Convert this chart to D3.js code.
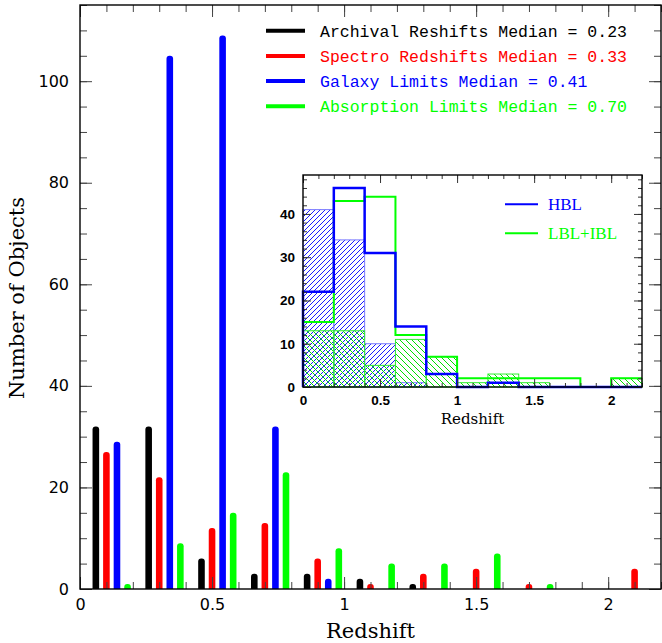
<!DOCTYPE html>
<html>
<head>
<meta charset="utf-8">
<script src="https://cdn.jsdelivr.net/npm/d3@7"></script>
<style>
  body { margin: 0; background: #fff; }
  svg { display: block; }
</style>
</head>
<body>
<div id="chart"></div>
<script>
// redshift bins (width 0.2)
var binStarts = [0, 0.2, 0.4, 0.6, 0.8, 1.0, 1.2, 1.4, 1.6, 1.8, 2.0];

// main histogram, one value per bin
var archival   = [32, 32, 6, 3, 3, 2, 1, 0, 0, 0, 0];
var spectro    = [27, 22, 12, 13, 6, 1, 3, 4, 1, 0, 4];
var galaxy     = [29, 105, 109, 32, 2, 0, 0, 0, 0, 0, 0];
var absorption = [1, 9, 15, 23, 8, 5, 5, 7, 1, 0, 0];

var seriesNames = [
    "Archival Reshifts Median = 0.23",
    "Spectro Redshifts Median = 0.33",
    "Galaxy Limits Median = 0.41",
    "Absorption Limits Median = 0.70"
];
var seriesColors = ["#000000", "#ff0000", "#0000ff", "#00ff00"];
var barOffsets = [0.06, 0.10, 0.14, 0.18];

// inset histogram
var hblTotal = [22, 46, 31, 14, 3, 0, 1, 0, 0, 0, 0];
var lblTotal = [15, 43, 44, 12, 7, 2, 2, 2, 2, 0, 2];
var hblHatch = [41, 34, 10, 1, 0, 0, 0, 0, 0, 0, 0];
var lblHatch = [13, 13, 5, 11, 7, 1, 3, 1, 0, 0, 2];
var insetNames = ["HBL", "LBL+IBL"];
var insetColors = ["#0000ff", "#00ff00"];

var binWidth = 0.2;
var xMajor = [0, 0.5, 1, 1.5, 2];
var xMinor = d3.range(0, 23).map(d => d / 10);

var width = 662, height = 643;

var svg = d3.select("#chart").append("svg")
    .attr("width", width)
    .attr("height", height);

var defs = svg.append("defs");

// hatch patterns
defs.append("pattern")
    .attr("id", "hatchBlue")
    .attr("patternUnits", "userSpaceOnUse")
    .attr("width", 5).attr("height", 5)
  .append("path")
    .attr("d", "M-1,1 l2,-2 M0,5 l5,-5 M4,6 l2,-2")
    .attr("stroke", "#1a1aff")
    .attr("stroke-width", 1)
    .attr("shape-rendering", "crispEdges");

defs.append("pattern")
    .attr("id", "hatchGreen")
    .attr("patternUnits", "userSpaceOnUse")
    .attr("width", 6).attr("height", 6)
  .append("path")
    .attr("d", "M-1,5 l2,2 M0,0 l6,6 M5,-1 l2,2")
    .attr("stroke", "#00e000")
    .attr("stroke-width", 1)
    .attr("shape-rendering", "crispEdges");

// ---------- main plot ----------
var x = d3.scaleLinear().domain([0, 2.2]).range([80, 661]);
var y = d3.scaleLinear().domain([0, 115]).range([589, 5]);

defs.append("clipPath").attr("id", "mainClip")
  .append("rect")
    .attr("x", x(0)).attr("y", y(115))
    .attr("width", x(2.2) - x(0)).attr("height", y(0) - y(115));

var series = [archival, spectro, galaxy, absorption];
var bars = [];
series.forEach((vals, s) => {
    vals.forEach((v, i) => {
        if (v > 0) bars.push({ s: s, x: binStarts[i] + barOffsets[s], v: v });
    });
});

var barW = 6.6;
svg.append("g")
    .attr("clip-path", "url(#mainClip)")
  .selectAll("rect")
  .data(bars)
  .join("rect")
    .attr("x", d => x(d.x) - barW / 2)
    .attr("y", d => y(d.v))
    .attr("width", barW)
    .attr("height", d => y(0) - y(d.v) + 5)
    .attr("rx", 3)
    .attr("fill", d => seriesColors[d.s]);

function drawAxes(g, xs, ys, o) {
    var x0 = xs.range()[0], x1 = xs.range()[1];
    var y0 = ys.range()[0], y1 = ys.range()[1];

    var layers = [
        // [axis, transform, values, size, labels]
        [d3.axisBottom(xs), `translate(0,${y0})`, o.xMinor, o.minor, false],
        [d3.axisBottom(xs), `translate(0,${y0})`, o.xMajor, o.major, true],
        [d3.axisTop(xs), `translate(0,${y1})`, o.xMinor, o.minor, false],
        [d3.axisTop(xs), `translate(0,${y1})`, o.xMajor, o.major, false],
        [d3.axisLeft(ys), `translate(${x0},0)`, o.yMinor, o.minor, false],
        [d3.axisLeft(ys), `translate(${x0},0)`, o.yMajor, o.major, true],
        [d3.axisRight(ys), `translate(${x1},0)`, o.yMinor, o.minor, false],
        [d3.axisRight(ys), `translate(${x1},0)`, o.yMajor, o.major, false]
    ];
    layers.forEach((l, k) => {
        var isX = k < 4;
        var ax = l[0].tickValues(l[2]).tickSize(-l[3]).tickSizeOuter(0)
            .tickPadding(isX ? o.xPad : o.yPad)
            .tickFormat(l[4] ? d3.format("~g") : "");
        var ag = g.append("g").attr("transform", l[1]).call(ax);
        ag.select(".domain").remove();
        ag.selectAll(".tick line").attr("stroke", o.tickColor).attr("stroke-width", 1);
        ag.selectAll("text")
            .attr("fill", "#000")
            .style("font-family", o.font)
            .style("font-size", o.fontSize + "px")
            .style("font-weight", o.fontWeight);
    });

    g.append("rect")
        .attr("x", x0).attr("y", y1)
        .attr("width", x1 - x0).attr("height", y0 - y1)
        .attr("fill", "none")
        .attr("stroke", "#000")
        .attr("stroke-width", o.frame);
}

drawAxes(svg.append("g"), x, y, {
    xMajor: xMajor, xMinor: xMinor,
    yMajor: d3.range(0, 101, 20), yMinor: d3.range(0, 116, 5),
    major: 12, minor: 7, xPad: 10, yPad: 11,
    tickColor: "#444", frame: 1.4,
    font: "'DejaVu Sans', sans-serif", fontSize: 16, fontWeight: "normal"
});

svg.append("text")
    .attr("x", (x(0) + x(2.2)) / 2 + 0)
    .attr("y", 638)
    .attr("text-anchor", "middle")
    .style("font-family", "'DejaVu Serif', serif")
    .style("font-size", "21px")
    .text("Redshift");

svg.append("text")
    .attr("transform", "translate(24,298) rotate(-90)")
    .attr("text-anchor", "middle")
    .style("font-family", "'DejaVu Serif', serif")
    .style("font-size", "21px")
    .text("Number of Objects");

// legend
var leg = svg.append("g").selectAll("g")
    .data(seriesNames)
    .join("g")
    .attr("transform", (d, i) => `translate(266,${30.7 + i * 25.2})`);
leg.append("line")
    .attr("x1", 0).attr("x2", 39)
    .attr("stroke", (d, i) => seriesColors[i])
    .attr("stroke-width", 4);
leg.append("text")
    .attr("x", 54).attr("y", 6)
    .attr("fill", (d, i) => seriesColors[i])
    .style("font-family", "'Liberation Mono', monospace")
    .style("font-size", "16.5px")
    .text(d => d);

// ---------- inset ----------
var xi = d3.scaleLinear().domain([0, 2.2]).range([303, 642]);
var yi = d3.scaleLinear().domain([0, 49]).range([387, 175]);

var inset = svg.append("g");
inset.append("rect")
    .attr("x", xi(0)).attr("y", yi(49))
    .attr("width", xi(2.2) - xi(0)).attr("height", yi(0) - yi(49))
    .attr("fill", "#fff");

function hatchBoxes(vals, pattern, border) {
    var data = vals.map((v, i) => ({ x: binStarts[i], v: v })).filter(d => d.v > 0);
    inset.append("g").selectAll("rect")
        .data(data)
        .join("rect")
        .attr("x", d => xi(d.x))
        .attr("y", d => yi(d.v))
        .attr("width", d => xi(d.x + binWidth) - xi(d.x))
        .attr("height", d => yi(0) - yi(d.v))
        .attr("fill", "url(#" + pattern + ")")
        .attr("stroke", border)
        .attr("stroke-width", 1);
}
hatchBoxes(hblHatch, "hatchBlue", "#7a7aff");
hatchBoxes(lblHatch, "hatchGreen", "#33ee33");

var step = d3.line()
    .x(d => xi(d[0]))
    .y(d => yi(d[1]))
    .curve(d3.curveStepAfter);

function outline(vals, color, w) {
    var pts = [[0, 0]].concat(vals.map((v, i) => [binStarts[i], v]));
    pts.push([2.2, vals[vals.length - 1]]);
    inset.append("path")
        .attr("d", step(pts))
        .attr("fill", "none")
        .attr("stroke", color)
        .attr("stroke-width", w);
}
outline(lblTotal, insetColors[1], 2);
outline(hblTotal, insetColors[0], 2.5);

drawAxes(inset.append("g"), xi, yi, {
    xMajor: xMajor, xMinor: xMinor,
    yMajor: d3.range(0, 41, 10), yMinor: d3.range(0, 49, 2),
    major: 8, minor: 4, xPad: 8, yPad: 8,
    tickColor: "#333", frame: 1.4,
    font: "'Liberation Sans', Arial, sans-serif", fontSize: 13.5, fontWeight: "bold"
});

inset.append("text")
    .attr("x", (xi(0) + xi(2.2)) / 2)
    .attr("y", 424)
    .attr("text-anchor", "middle")
    .style("font-family", "'DejaVu Serif', serif")
    .style("font-size", "15px")
    .text("Redshift");

var ileg = inset.append("g").selectAll("g")
    .data(insetNames)
    .join("g")
    .attr("transform", (d, i) => `translate(505,${204.3 + i * 29})`);
ileg.append("line")
    .attr("x1", 0).attr("x2", 33)
    .attr("stroke", (d, i) => insetColors[i])
    .attr("stroke-width", 2);
ileg.append("text")
    .attr("x", 43).attr("y", 5.5)
    .attr("fill", (d, i) => insetColors[i])
    .style("font-family", "'Liberation Serif', serif")
    .style("font-size", "17px")
    .text(d => d);
</script>
</body>
</html>
